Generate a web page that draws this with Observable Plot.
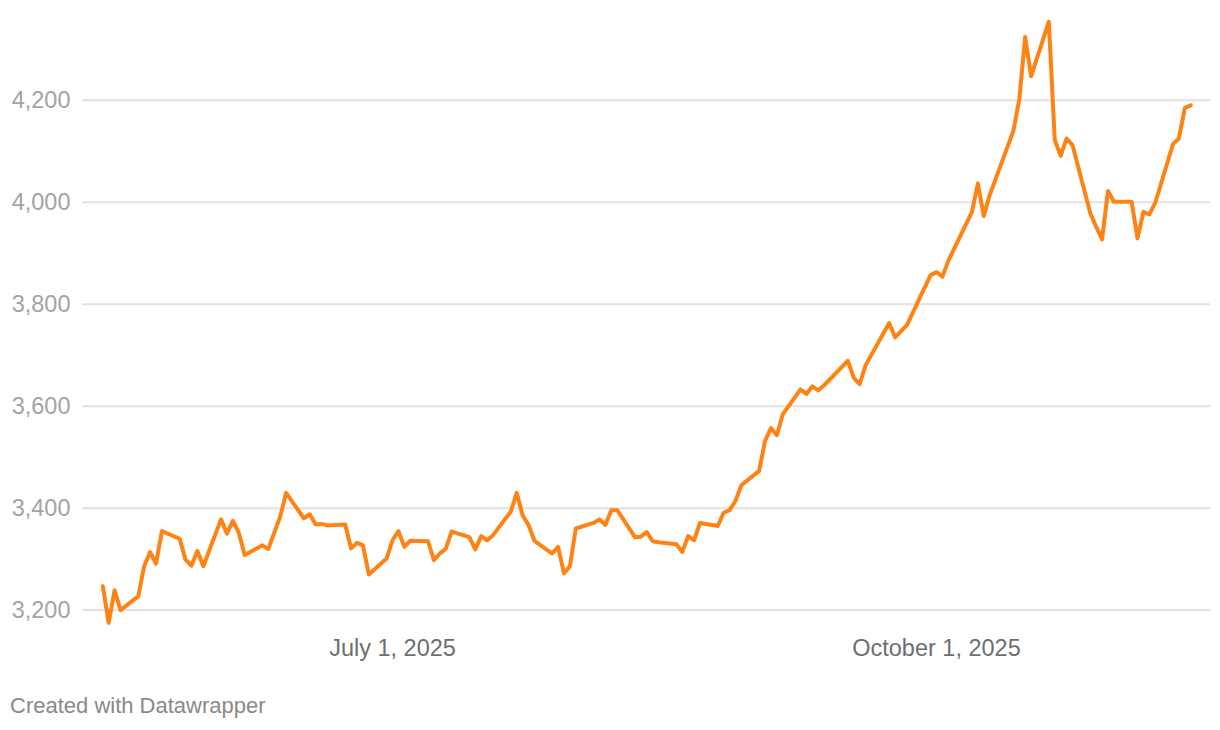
<!DOCTYPE html>
<html>
<head>
<meta charset="utf-8">
<script src="https://cdn.jsdelivr.net/npm/d3@7"></script>
<script src="https://cdn.jsdelivr.net/npm/@observablehq/plot@0.6"></script>
<style>
  body { margin: 0; background: #fff; font-family: "Liberation Sans", Arial, Helvetica, sans-serif; }
  #chart svg { display: block; }
  #caption { margin: 23px 0 0 10px; font-size: 22px; color: #898989; font-family: "Liberation Sans", Arial, Helvetica, sans-serif; }
</style>
</head>
<body>
<div id="chart"></div>
<div id="caption">Created with Datawrapper</div>
<script>
const dates = [
  "2025-05-13","2025-05-14","2025-05-15","2025-05-16","2025-05-19","2025-05-20","2025-05-21","2025-05-22","2025-05-23","2025-05-26","2025-05-27","2025-05-28","2025-05-29","2025-05-30",
  "2025-06-02","2025-06-03","2025-06-04","2025-06-05","2025-06-06","2025-06-09","2025-06-10","2025-06-12","2025-06-13","2025-06-16","2025-06-17","2025-06-18","2025-06-19","2025-06-20","2025-06-23","2025-06-24","2025-06-25","2025-06-26","2025-06-27","2025-06-30",
  "2025-07-01","2025-07-02","2025-07-03","2025-07-04","2025-07-07","2025-07-08","2025-07-09","2025-07-10","2025-07-11","2025-07-14","2025-07-15","2025-07-16","2025-07-17","2025-07-18","2025-07-21","2025-07-22","2025-07-23","2025-07-24","2025-07-25","2025-07-28","2025-07-29","2025-07-30","2025-07-31",
  "2025-08-01","2025-08-04","2025-08-05","2025-08-06","2025-08-07","2025-08-08","2025-08-11","2025-08-12","2025-08-13","2025-08-14","2025-08-15","2025-08-18","2025-08-19","2025-08-20","2025-08-21","2025-08-22","2025-08-25","2025-08-26","2025-08-27","2025-08-28","2025-08-29",
  "2025-09-01","2025-09-02","2025-09-03","2025-09-04","2025-09-05","2025-09-08","2025-09-09","2025-09-10","2025-09-11","2025-09-12","2025-09-16","2025-09-17","2025-09-18","2025-09-19","2025-09-23","2025-09-24","2025-09-26","2025-09-30",
  "2025-10-01","2025-10-02","2025-10-03","2025-10-07","2025-10-08","2025-10-09","2025-10-10","2025-10-14","2025-10-15","2025-10-16","2025-10-17","2025-10-20","2025-10-21","2025-10-22","2025-10-23","2025-10-24","2025-10-27","2025-10-28","2025-10-29","2025-10-30","2025-10-31",
  "2025-11-03","2025-11-04","2025-11-05","2025-11-06","2025-11-07","2025-11-10","2025-11-11","2025-11-12","2025-11-13"
];
const values = [
  3247,3175,3239,3200,3227,3286,3314,3291,3355,3340,3299,3287,3316,3286,
  3378,3350,3375,3352,3308,3327,3320,3383,3430,3380,3388,3368,3369,3366,3368,3321,3332,3327,3270,3301,
  3337,3355,3324,3336,3335,3298,3311,3320,3354,3343,3319,3345,3337,3347,3393,3430,3386,3367,3336,3311,3324,3272,3286,
  3360,3371,3378,3367,3396,3396,3343,3344,3353,3335,3333,3329,3314,3345,3337,3371,3365,3391,3396,3414,3445,
  3473,3532,3557,3543,3584,3633,3624,3639,3631,3641,3689,3656,3643,3680,3763,3735,3759,3857,
  3863,3854,3885,3981,4037,3973,4014,4140,4201,4324,4247,4354,4122,4091,4125,4112,3979,3952,3927,4022,4001,
  4001,3929,3981,3976,3999,4114,4125,4185,4190
];
const xTickDates = ["2025-07-01","2025-10-01"];
const yTicks = [3200, 3400, 3600, 3800, 4000, 4200];
const xDomain = ["2025-05-09T13:40:00Z", "2025-11-16T08:10:00Z"];
const yDomain = [3160, 4376];

const data = dates.map((d, i) => ({ date: new Date(d + "T00:00:00Z"), value: values[i] }));
const font = '"Liberation Sans", Arial, Helvetica, sans-serif';

const chart = Plot.plot({
  width: 1220,
  height: 670,
  marginLeft: 82,
  marginRight: 10,
  marginTop: 10,
  marginBottom: 40,
  style: { fontFamily: font, background: "#fff", overflow: "visible" },
  x: { type: "utc", domain: xDomain.map(d => new Date(d)) },
  y: { domain: yDomain },
  marks: [
    Plot.gridY(yTicks, { stroke: "#e2e2e2", strokeWidth: 2, strokeOpacity: 1 }),
    Plot.axisY(yTicks, {
      tickSize: 0, tickPadding: 12, fontSize: 23.5, color: "#a3a3a3",
      tickFormat: d3.format(","), label: null
    }),
    Plot.axisX(xTickDates.map(d => new Date(d + "T00:00:00Z")), {
      tickSize: 0, tickPadding: 9, fontSize: 23.5, color: "#6e6e6e",
      tickFormat: d3.utcFormat("%B %-d, %Y"), label: null
    }),
    Plot.line(data, {
      x: "date", y: "value", stroke: "#ff8214", strokeWidth: 4,
      strokeLinejoin: "round", strokeLinecap: "round"
    })
  ]
});
document.getElementById("chart").appendChild(chart);
</script>
</body>
</html>
